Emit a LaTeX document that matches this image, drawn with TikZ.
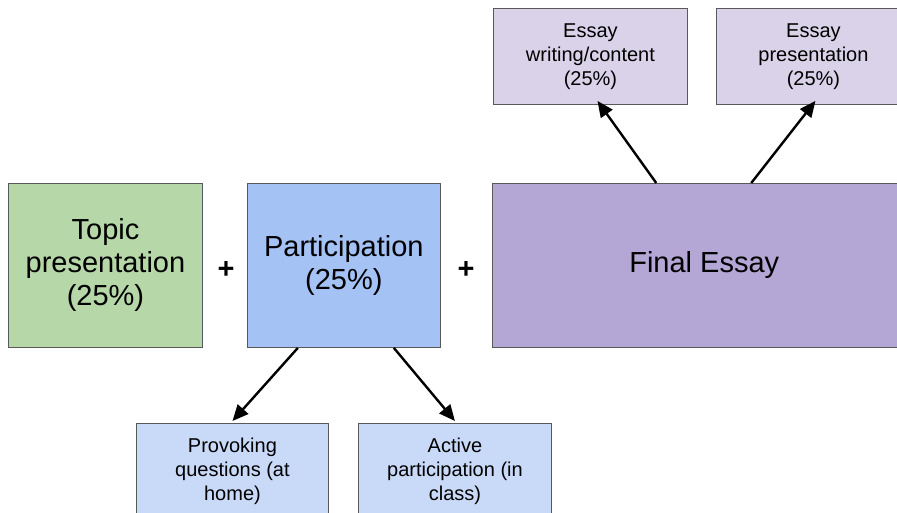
\documentclass[tikz,border=0pt]{standalone}
\usepackage{fontspec}
\setmainfont{Liberation Sans}
\definecolor{GradeGreen}{HTML}{B6D7A8}
\definecolor{GradeBlue}{HTML}{A4C2F4}
\definecolor{GradeLightBlue}{HTML}{C9DAF8}
\definecolor{GradePurple}{HTML}{B4A7D6}
\definecolor{GradeLightPurple}{HTML}{D9D2E9}
\definecolor{GradeBorder}{HTML}{595959}
\usetikzlibrary{arrows.meta, positioning}

\begin{document}
\begin{tikzpicture}[
          x=1pt, y=1pt,
          bigbox/.style={
            draw=GradeBorder,
            line width=0.9pt,
            align=center,
            minimum height=164pt,
            inner sep=0pt,
            font=\fontsize{29}{33}\selectfont
          },
          subbox/.style={
            draw=GradeBorder,
            line width=0.9pt,
            align=center,
            minimum width=194pt,
            minimum height=96pt,
            inner sep=0pt,
            font=\fontsize{20}{24}\selectfont
          },
          plus/.style={font=\fontsize{29}{33}\selectfont\bfseries},
          arrow/.style={-{Triangle[length=16pt, width=14pt]}, line width=2.4pt, black}
        ]
        \useasboundingbox (0,0) rectangle (897,-512);
        \clip (0,0) rectangle (897,-512);
        \node[bigbox, fill=GradeGreen, minimum width=194pt, anchor=north west] (topic) at (8,-183) {Topic\\presentation\\(25\%)};
        \node[bigbox, fill=GradeBlue, minimum width=193pt, right=44pt of topic] (partic) {Participation\\(25\%)};
        \node[bigbox, fill=GradePurple, minimum width=424pt, right=51pt of partic] (final) {Final Essay};
        \node[plus] (plusA) at (226,-270) {+};
        \node[plus] (plusB) at (466,-270) {+};
        \node[subbox, fill=GradeLightPurple, anchor=north west] (writing) at (493,-8) {Essay\\writing/content\\(25\%)};
        \node[subbox, fill=GradeLightPurple, anchor=north west] (pres) at (716,-8) {Essay\\presentation\\(25\%)};
        \node[subbox, fill=GradeLightBlue, minimum width=192pt, anchor=north west] (provoke) at (136,-423) {Provoking\\questions (at\\home)};
        \node[subbox, fill=GradeLightBlue, minimum width=193pt, anchor=north west] (active) at (358,-423) {Active\\participation (in\\class)};
        \draw[arrow] ([xshift=-46pt]partic.south) -- ([yshift=2pt]provoke.north);
        \draw[arrow] ([xshift=50pt]partic.south) -- ([yshift=2pt]active.north);
        \draw[arrow] ([xshift=-48pt]final.north) -- ([xshift=7pt, yshift=4pt]writing.south);
        \draw[arrow] ([xshift=47pt]final.north) -- ([xshift=2pt, yshift=4pt]pres.south);
      \end{tikzpicture}
\end{document}
